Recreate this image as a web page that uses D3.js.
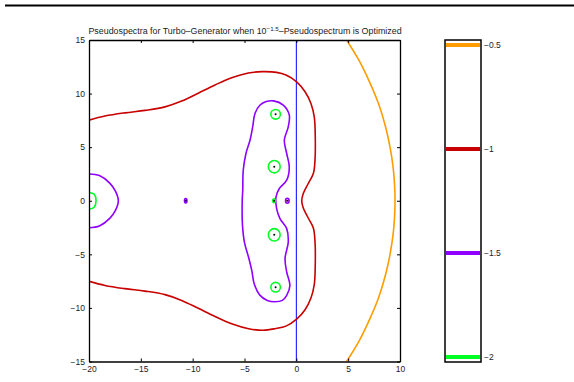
<!DOCTYPE html>
<html>
<head>
<meta charset="utf-8">
<script src="https://cdn.jsdelivr.net/npm/d3@7"></script>
<style>
  body { margin: 0; background: #fff; }
  svg text { font-family: "Liberation Sans", Arial, sans-serif; fill: #222; }
</style>
</head>
<body>
<script>
// ---------------- data ----------------
var xTicks = [-20, -15, -10, -5, 0, 5, 10];
var yTicks = [-15, -10, -5, 0, 5, 10, 15];
var levels = [-2, -1.5, -1, -0.5];
var levelLabels = ["\u22122", "\u22121.5", "\u22121", "\u22120.5"];

// eigenvalues (black dots)
var eigs = [[-10.67, 0], [-2.15, 0], [-0.87, 0], [-2.0, 8.07], [-2.13, 3.18], [-2.13, -3.18], [-2.0, -8.07]];

// level -0.5 contour
var orangeCurve = [[4.85, -15], [6.1, -13], [7.1, -11], [7.95, -9], [8.58, -7], [9.04, -5], [9.35, -3], [9.5, -1],
  [9.52, 0], [9.5, 1], [9.35, 3], [9.04, 5], [8.58, 7], [7.95, 9], [7.1, 11], [6.1, 13], [4.85, 15]];

// level -1 contour
var redCurve = [[-20, 7.52], [-18.46, 7.9], [-16.53, 8.2], [-14.6, 8.43], [-12.67, 8.76], [-11.06, 9.3], [-9.46, 10.04],
  [-7.85, 10.8], [-6.24, 11.48], [-4.63, 11.92], [-3.3, 12.05], [-1.9, 11.98], [-1.0, 11.73], [0.03, 11.1], [0.84, 10.17],
  [1.41, 9.08], [1.73, 7.83], [1.82, 6.28], [1.8, 3.79], [1.64, 2.54], [1.15, 1.61], [0.67, 0.67], [0.52, 0],
  [0.67, -0.67], [1.15, -1.61], [1.64, -2.54], [1.8, -3.79], [1.82, -6.28], [1.73, -7.83], [1.41, -9.08],
  [0.84, -10.17], [0.03, -11.05], [-1.0, -11.7], [-2.06, -11.94], [-3.2, -12.08], [-4.6, -11.94], [-6.24, -11.48],
  [-7.85, -10.8], [-9.46, -10.04], [-11.06, -9.3], [-12.67, -8.76], [-14.6, -8.43], [-16.53, -8.2], [-18.46, -7.9],
  [-20, -7.52]];

// level -1.5 contours
var purpleBlob = [[-2.2, 9.32], [-1.26, 8.93], [-0.68, 8.0], [-0.78, 6.9], [-1.16, 5.65], [-0.93, 4.41],
  [-0.68, 3.16], [-0.93, 1.92], [-1.64, 1.14], [-1.96, 0.36],
  [-1.9, -0.73], [-1.58, -1.66], [-0.93, -2.6], [-0.78, -3.85], [-1.09, -5.4], [-0.93, -6.65],
  [-0.62, -7.9], [-0.93, -8.83], [-1.35, -9.3], [-2.1, -9.42],
  [-2.8, -9.3], [-3.5, -8.83], [-4.05, -7.8], [-4.3, -6.5], [-4.6, -5.3], [-5.0, -3.9], [-5.2, -2.2], [-5.22, 0],
  [-5.17, 0.98], [-5.12, 2.85], [-4.86, 4.41], [-4.47, 5.65], [-4.21, 6.9], [-3.99, 8.15], [-3.5, 8.93], [-2.9, 9.26]];
var purpleLeft = [[-20, 2.5], [-19.0, 2.35], [-18.0, 1.65], [-17.45, 0.9], [-17.17, 0], [-17.45, -0.9], [-18.0, -1.65],
  [-19.0, -2.35], [-20, -2.52]];

// level -2 contour at left edge
var greenLeft = [[-20, 0.77], [-19.5, 0.6], [-19.32, 0], [-19.5, -0.6], [-20, -0.8]];

// small closed loops: [level, cx, cy, rx, ry]
var loops = [
  [-1.5, -10.67, 0, 0.12, 0.2],
  [-1.5, -0.87, 0, 0.17, 0.23],
  [-2, -2.15, 0, 0.12, 0.18],
  [-2, -2.0, 8.07, 0.46, 0.45],
  [-2, -2.13, 3.18, 0.57, 0.58],
  [-2, -2.13, -3.18, 0.57, 0.58],
  [-2, -2.0, -8.07, 0.46, 0.45]
];

// ---------------- drawing ----------------
var W = 574, H = 382;
var svg = d3.select("body").append("svg").attr("width", W).attr("height", H);

var x = d3.scaleLinear().domain([-20, 10]).range([89, 400]);
var y = d3.scaleLinear().domain([-15, 15]).range([361.5, 40]);
var color = d3.scaleOrdinal().domain(levels).range(["#00ff22", "#8f00ff", "#c80000", "#ff9c00"]);

// rule at top of the page
svg.append("line").attr("x1", 5).attr("x2", W).attr("y1", 5.5).attr("y2", 5.5)
  .attr("stroke", "#000").attr("stroke-width", 2);

svg.append("defs").append("clipPath").attr("id", "plotclip")
  .append("rect").attr("x", x(-20)).attr("y", y(15)).attr("width", x(10) - x(-20)).attr("height", y(-15) - y(15));

var plot = svg.append("g").attr("clip-path", "url(#plotclip)");

var lineOpen = d3.line().x(function(d) { return x(d[0]); }).y(function(d) { return y(d[1]); })
  .curve(d3.curveCatmullRom.alpha(0.5));
var lineClosed = d3.line().x(function(d) { return x(d[0]); }).y(function(d) { return y(d[1]); })
  .curve(d3.curveCatmullRomClosed.alpha(0.5));

// imaginary axis
plot.append("line").attr("x1", x(0)).attr("x2", x(0)).attr("y1", y(15)).attr("y2", y(-15))
  .attr("stroke", "#0000ff").attr("stroke-width", 1);

var curves = [
  { pts: orangeCurve, level: -0.5, closed: false },
  { pts: redCurve, level: -1, closed: false },
  { pts: purpleBlob, level: -1.5, closed: true },
  { pts: purpleLeft, level: -1.5, closed: false },
  { pts: greenLeft, level: -2, closed: false }
];
plot.selectAll("path.contour").data(curves).enter().append("path")
  .attr("class", "contour")
  .attr("d", function(d) { return d.closed ? lineClosed(d.pts) : lineOpen(d.pts); })
  .attr("fill", "none")
  .attr("stroke", function(d) { return color(d.level); })
  .attr("stroke-width", 1.6);

plot.selectAll("ellipse.loop").data(loops).enter().append("ellipse")
  .attr("class", "loop")
  .attr("cx", function(d) { return x(d[1]); })
  .attr("cy", function(d) { return y(d[2]); })
  .attr("rx", function(d) { return x(d[1] + d[3]) - x(d[1]); })
  .attr("ry", function(d) { return y(d[2]) - y(d[2] + d[4]); })
  .attr("fill", "none")
  .attr("stroke", function(d) { return color(d[0]); })
  .attr("stroke-width", 1.6);

plot.selectAll("circle.eig").data(eigs).enter().append("circle")
  .attr("class", "eig")
  .attr("cx", function(d) { return x(d[0]); })
  .attr("cy", function(d) { return y(d[1]); })
  .attr("r", 1)
  .attr("fill", "#000");

// axes (MATLAB style box with inward ticks)
var tl = 3;
var fmt = function(d) { return d < 0 ? "\u2212" + (-d) : d; };
var gx = svg.append("g").attr("transform", "translate(0," + y(-15) + ")")
  .call(d3.axisBottom(x).tickValues(xTicks).tickSizeInner(-tl).tickSizeOuter(0).tickPadding(4).tickFormat(fmt));
var gxt = svg.append("g").attr("transform", "translate(0," + y(15) + ")")
  .call(d3.axisTop(x).tickValues(xTicks).tickSizeInner(-tl).tickSizeOuter(0).tickFormat(""));
var gy = svg.append("g").attr("transform", "translate(" + x(-20) + ",0)")
  .call(d3.axisLeft(y).tickValues(yTicks).tickSizeInner(-tl).tickSizeOuter(0).tickPadding(4).tickFormat(fmt));
var gyr = svg.append("g").attr("transform", "translate(" + x(10) + ",0)")
  .call(d3.axisRight(y).tickValues(yTicks).tickSizeInner(-tl).tickSizeOuter(0).tickFormat(""));
[gx, gxt, gy, gyr].forEach(function(g) {
  g.select(".domain").attr("stroke", "#000").attr("stroke-width", 1.3);
  g.selectAll(".tick line").attr("stroke", "#000");
  g.selectAll("text").attr("font-size", 8.5).attr("fill", "#222");
});

// title
var title = svg.append("text").attr("x", 245).attr("y", 34).attr("text-anchor", "middle").attr("font-size", 8.9);
title.append("tspan").text("Pseudospectra for Turbo\u2013Generator when 10");
title.append("tspan").attr("dy", -3.5).attr("font-size", 6.2).text("\u22121.5");
title.append("tspan").attr("dy", 3.5).text("\u2013Pseudospectrum is Optimized");

// colorbar
var cb = d3.scaleLinear().domain([-2.024, -0.476]).range([362, 40]);
var cbx0 = 445, cbx1 = 481;
var cbg = svg.append("g");
cbg.selectAll("line.lev").data(levels).enter().append("line")
  .attr("class", "lev")
  .attr("x1", cbx0 + 1).attr("x2", cbx1 - 1)
  .attr("y1", function(d) { return cb(d); }).attr("y2", function(d) { return cb(d); })
  .attr("stroke", function(d) { return color(d); })
  .attr("stroke-width", 4);
cbg.append("rect").attr("x", cbx0).attr("y", cb(-0.476)).attr("width", cbx1 - cbx0).attr("height", cb(-2.024) - cb(-0.476))
  .attr("fill", "none").attr("stroke", "#000").attr("stroke-width", 1.5);
cbg.selectAll("text.cbl").data(levels).enter().append("text")
  .attr("class", "cbl")
  .attr("x", cbx1 + 3).attr("y", function(d) { return cb(d) + 3; })
  .attr("font-size", 8.5)
  .text(function(d, i) { return levelLabels[i]; });
</script>
</body>
</html>
